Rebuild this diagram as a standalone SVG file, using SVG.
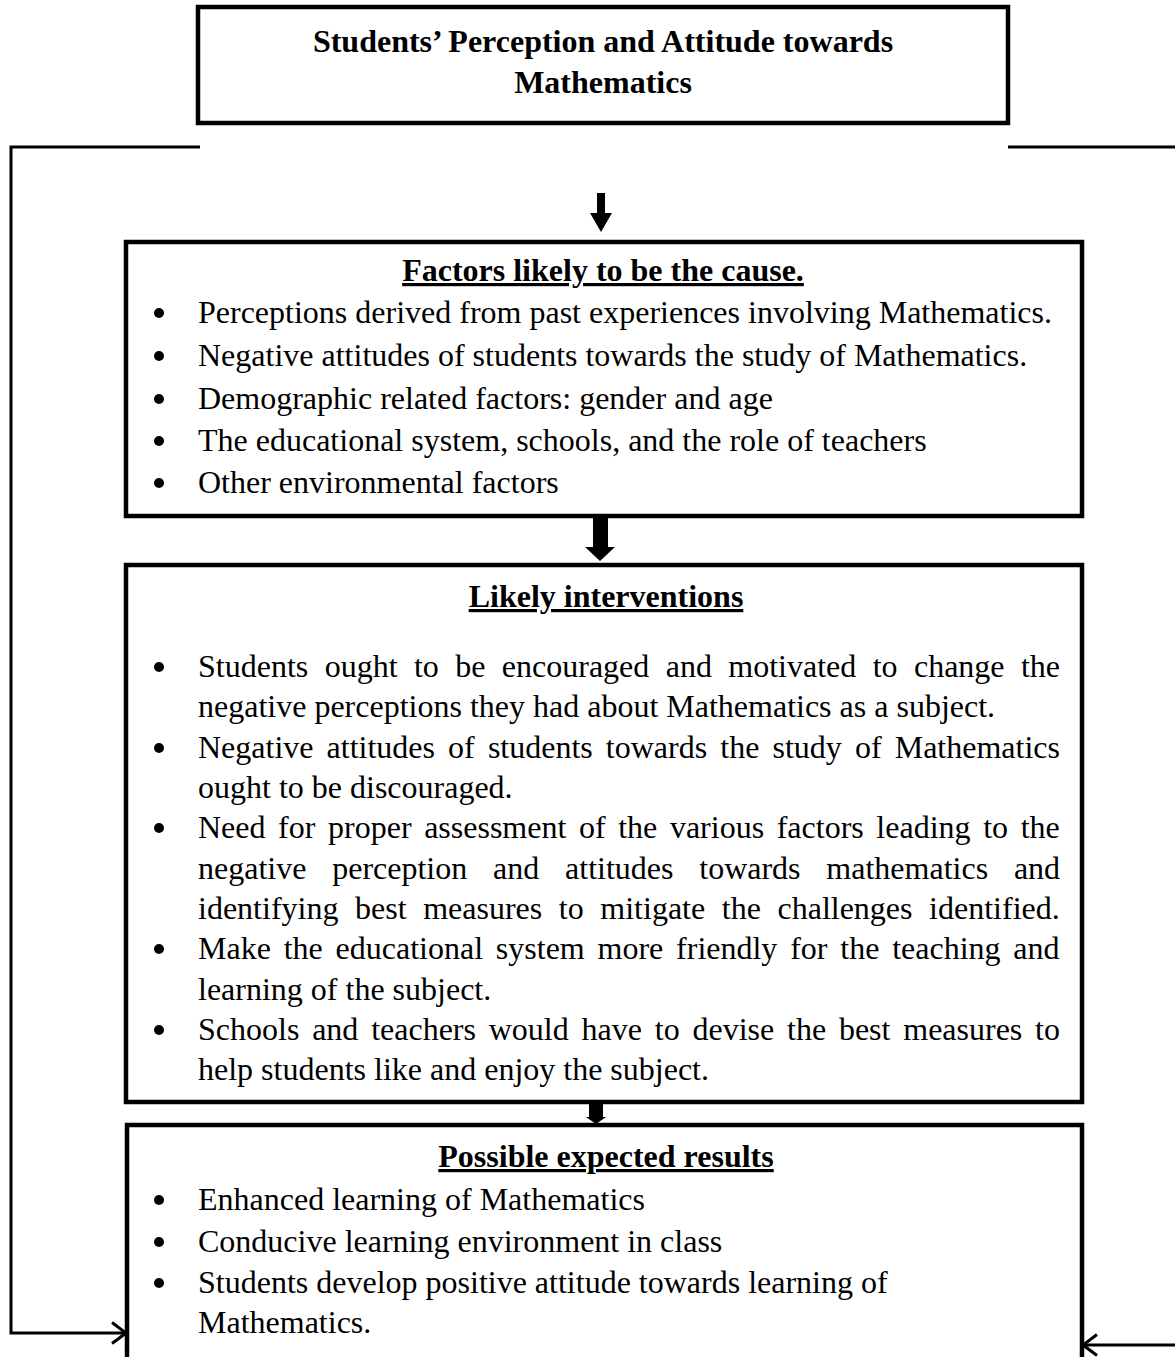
<svg xmlns="http://www.w3.org/2000/svg" width="1175" height="1357" viewBox="0 0 1175 1357">
<defs>
<style>
.box{fill:#fff;stroke:#000;stroke-width:4.5}
.t{font-family:"Liberation Serif","Times New Roman",serif;font-size:32px;fill:#000}
.b{font-weight:bold}
.h{font-weight:bold;text-decoration:underline;text-anchor:middle}
.c{text-anchor:middle}
.ln{fill:none;stroke:#000;stroke-width:3}
.dot{fill:#000}
</style>
<marker id="open" viewBox="0 0 16 24" refX="15" refY="12" markerWidth="16" markerHeight="24" markerUnits="userSpaceOnUse" orient="auto">
<path d="M1,1.5 L15,12 L1,22.5" fill="none" stroke="#000" stroke-width="3"/>
</marker>
</defs>
<rect width="1175" height="1357" fill="#fff"/>

<g id="title">
<rect class="box" x="198" y="7" width="810" height="116"/>
<text class="t b c" x="603" y="52">Students’ Perception and Attitude towards</text>
<text class="t b c" x="603" y="93">Mathematics</text>
</g>

<g id="connectors">
<polyline class="ln" points="200,147 11,147 11,1333 126,1333" marker-end="url(#open)"/>
<line class="ln" x1="1008" y1="147" x2="1175" y2="147"/>
<line class="ln" x1="1175" y1="1345" x2="1083" y2="1345" marker-end="url(#open)"/>
<path d="M597,193 h8 v20 h7 l-11,19 l-11,-19 h7 z" fill="#000"/>
<path d="M593,518 h15 v29 h7 l-15,14 l-15,-14 h8 z" fill="#000"/>
<path d="M589,1104 h14 v13 h3 l-10,7 l-10,-7 h3 z" fill="#000"/>
</g>

<g id="factors">
<rect class="box" x="126" y="242" width="956" height="274"/>
<text class="t h" x="603" y="281">Factors likely to be the cause.</text>
<circle class="dot" cx="159" cy="313" r="5"/><text class="t" x="198" y="323">Perceptions derived from past experiences involving Mathematics.</text>
<circle class="dot" cx="159" cy="356" r="5"/><text class="t" x="198" y="366">Negative attitudes of students towards the study of Mathematics.</text>
<circle class="dot" cx="159" cy="399" r="5"/><text class="t" x="198" y="409">Demographic related factors: gender and age</text>
<circle class="dot" cx="159" cy="441" r="5"/><text class="t" x="198" y="451">The educational system, schools, and the role of teachers</text>
<circle class="dot" cx="159" cy="483" r="5"/><text class="t" x="198" y="493">Other environmental factors</text>
</g>

<g id="interventions">
<rect class="box" x="126" y="565" width="956" height="537"/>
<text class="t h" x="606" y="607">Likely interventions</text>
<circle class="dot" cx="159" cy="667" r="5"/><text class="t" x="198" y="677" word-spacing="8.4">Students ought to be encouraged and motivated to change the</text>
<text class="t" x="198" y="717">negative perceptions they had about Mathematics as a subject.</text>
<circle class="dot" cx="159" cy="748" r="5"/><text class="t" x="198" y="758" word-spacing="5.1">Negative attitudes of students towards the study of Mathematics</text>
<text class="t" x="198" y="798">ought to be discouraged.</text>
<circle class="dot" cx="159" cy="828" r="5"/><text class="t" x="198" y="838" word-spacing="4.6">Need for proper assessment of the various factors leading to the</text>
<text class="t" x="198" y="879" word-spacing="17.8">negative perception and attitudes towards mathematics and</text>
<text class="t" x="198" y="919" word-spacing="8.6">identifying best measures to mitigate the challenges identified.</text>
<circle class="dot" cx="159" cy="949" r="5"/><text class="t" x="198" y="959" word-spacing="4.8">Make the educational system more friendly for the teaching and</text>
<text class="t" x="198" y="1000">learning of the subject.</text>
<circle class="dot" cx="159" cy="1030" r="5"/><text class="t" x="198" y="1040" word-spacing="4.8">Schools and teachers would have to devise the best measures to</text>
<text class="t" x="198" y="1080">help students like and enjoy the subject.</text>
</g>

<g id="results">
<path class="box" d="M127,1362 V1125 H1082 V1362" fill="#fff"/>
<text class="t h" x="606" y="1167">Possible expected results</text>
<circle class="dot" cx="159" cy="1200" r="5"/><text class="t" x="198" y="1210">Enhanced learning of Mathematics</text>
<circle class="dot" cx="159" cy="1242" r="5"/><text class="t" x="198" y="1252">Conducive learning environment in class</text>
<circle class="dot" cx="159" cy="1283" r="5"/><text class="t" x="198" y="1293">Students develop positive attitude towards learning of</text>
<text class="t" x="198" y="1333">Mathematics.</text>
</g>
</svg>
